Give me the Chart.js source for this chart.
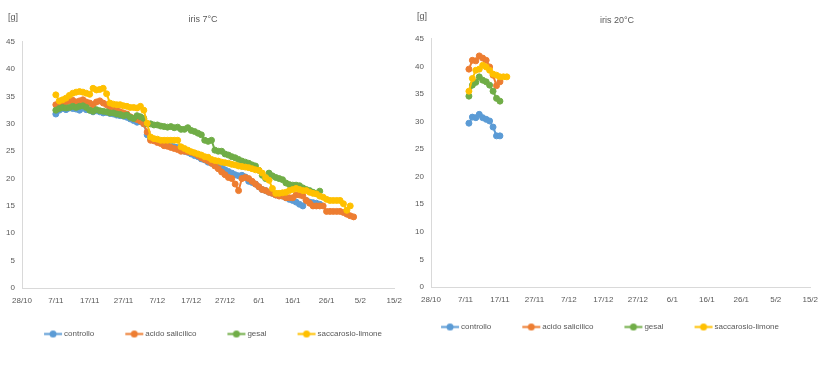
<!DOCTYPE html>
<html><head><meta charset="utf-8">
<script src="https://cdn.jsdelivr.net/npm/chart.js@4.4.1/dist/chart.umd.min.js"></script>
<style>
html,body{margin:0;padding:0;background:#fff;}
#wrap{position:relative;width:820px;height:365px;overflow:hidden;}
.box{position:absolute;top:0;height:365px;}
</style></head><body>
<div id="wrap">
<div class="box" style="left:0;width:410px"><canvas id="c1" width="410" height="365"></canvas></div>
<div class="box" style="left:410px;width:416px"><canvas id="c2" width="416" height="365"></canvas></div>
</div>
<script>
// ---- tick labels (x axis, day offsets from 28/10 in steps of 10) ----
const xTickLabels = ['28/10','7/11','17/11','27/11','7/12','17/12','27/12','6/1','16/1','26/1','5/2','15/2'];
const seriesNames = ['controllo','acido salicilico','gesal','saccarosio-limone'];

// ---- iris 7°C : measurement days (days after 28/10) ----
const days7 = [10,11,12,13,14,15,16,17,18,19,20,21,22,23,24,25,26,27,28,29,30,31,32,33,34,35,36,37,38,39,40,41,42,43,44,45,46,47,48,49,50,51,52,53,54,55,56,57,58,59,60,61,62,63,64,65,66,67,68,69,70,71,72,73,74,75,76,77,78,79,80,81,82,83,84,85,86,87,88,89,90,91,92,93,94,95,96,97,98];
const controllo7 = [31.8,32.5,32.8,32.6,32.9,32.8,32.7,32.5,32.9,32.6,32.5,32.2,32.4,32.2,32.0,32.1,31.9,31.8,31.6,31.5,31.4,31.2,30.9,30.6,30.3,30.4,30.0,28.0,27.3,27.0,26.8,26.6,26.5,26.2,26.0,25.8,25.7,25.4,25.0,24.8,24.5,24.2,24.0,23.6,23.4,23.0,22.8,22.5,22.3,22.0,21.6,21.3,21.0,20.7,20.5,20.6,20.3,19.5,19.3,19.0,18.5,18.0,17.8,17.5,17.3,17.0,17.0,16.8,16.5,16.2,16.0,15.7,15.3,15.0,16.0,15.7,15.6,15.5,15.3];
const acido7 = [33.5,33.0,33.6,34.0,34.2,34.3,34.0,34.2,34.4,34.0,33.8,33.5,34.0,34.2,33.8,33.5,33.0,32.8,32.5,32.2,32.0,31.8,31.3,31.0,30.8,30.5,30.0,28.5,27.0,26.9,26.6,26.4,26.0,25.9,25.7,25.5,25.3,25.0,25.0,24.9,24.8,24.6,24.2,23.8,23.5,23.2,22.8,22.3,21.8,21.2,20.7,20.2,20.0,19.0,17.8,20.0,20.2,20.0,19.5,19.0,18.5,18.0,17.8,17.5,17.3,17.0,16.8,16.8,16.5,16.5,16.5,17.0,17.0,16.8,16.0,15.5,15.0,15.0,15.0,15.0,14.0,14.0,14.0,14.0,14.0,13.8,13.5,13.2,13.0];
const gesal7 = [32.5,32.8,33.0,32.9,33.0,33.2,33.0,33.2,33.3,33.0,32.5,32.3,32.6,32.4,32.3,32.2,32.0,32.0,31.8,31.7,31.5,31.6,31.2,31.0,31.5,31.3,31.0,30.0,30.0,29.8,29.8,29.6,29.5,29.4,29.5,29.3,29.4,29.0,29.0,29.3,28.8,28.6,28.3,28.0,27.0,26.8,27.0,25.2,25.0,25.0,24.5,24.3,24.0,23.8,23.5,23.2,23.0,22.8,22.5,22.3,21.5,20.6,20.0,21.0,20.5,20.2,20.0,19.8,19.2,18.9,18.8,18.8,18.7,18.3,18.0,17.8,17.5,17.3,17.7];
const sacc7 = [35.3,34.2,34.4,34.7,35.2,35.6,35.8,35.9,35.8,35.6,35.4,36.5,36.2,36.3,36.5,35.5,33.8,33.6,33.5,33.5,33.3,33.2,33.0,33.0,32.9,33.2,32.5,30.1,27.6,27.3,27.2,27.0,27.0,27.0,27.0,27.0,27.0,25.8,25.5,25.2,24.9,24.7,24.5,24.3,24.0,23.9,23.5,23.3,23.2,23.0,22.9,22.8,22.6,22.5,22.3,22.2,22.1,22.0,21.8,21.6,21.5,21.0,20.2,19.7,18.2,17.3,17.3,17.4,17.5,17.8,18.0,18.2,18.0,17.8,17.8,17.5,17.3,17.2,16.8,16.6,16.2,16.0,16.0,16.0,16.0,15.4,14.2,15.0];

// ---- iris 20°C ----
const days20 = [11,12,13,14,15,16,17,18,19,20,21,22];
const controllo20 = [29.7,30.8,30.7,31.3,30.7,30.4,30.1,29.0,27.4,27.4];
const acido20 = [39.5,41.1,41.0,41.9,41.5,41.1,39.9,38.4,36.5,37.2];
const gesal20 = [34.6,36.6,37.1,38.1,37.5,37.2,36.6,35.5,34.2,33.7];
const sacc20 = [35.5,37.8,39.3,39.5,40.2,39.9,39.3,38.6,38.4,38.1,38.1,38.1];

const colors = ['#5B9BD5','#ED7D31','#70AD47','#FFC000'];
const FONT = '"Liberation Sans", Arial, sans-serif';
const TXT = '#595959';
const AXIS = '#d9d9d9';

function legendImg(color){
  const c = document.createElement('canvas'); c.width = 46; c.height = 9;
  const g = c.getContext('2d');
  g.strokeStyle = color; g.lineWidth = 2;
  g.beginPath(); g.moveTo(27, 4.5); g.lineTo(45, 4.5); g.stroke();
  g.fillStyle = color; g.beginPath(); g.arc(36, 4.5, 3.5, 0, Math.PI*2); g.fill();
  return c;
}
const legendImgs = colors.map(legendImg);

function mkDataset(i, days, vals){
  return {
    label: seriesNames[i],
    data: vals.map((v, k) => ({x: days[k], y: v})),
    borderColor: colors[i], backgroundColor: colors[i],
    pointBackgroundColor: colors[i], pointBorderColor: colors[i],
    borderWidth: 2, pointRadius: 3, pointBorderWidth: 1, pointHoverRadius: 3,
    tension: 0, order: 4 - i
  };
}

function makeChart(canvasId, title, sets, geo){
  const unitPlugin = {
    id: 'unitLabel',
    afterLayout(chart){
      chart.legend.left += geo.legendDx; chart.legend.right += geo.legendDx;
      chart.titleBlock.left += geo.titleDx; chart.titleBlock.right += geo.titleDx;
    },
    afterDraw(chart){
      const ctx = chart.ctx; ctx.save();
      ctx.font = '9px ' + FONT; ctx.fillStyle = TXT;
      ctx.textAlign = 'left'; ctx.textBaseline = 'middle';
      ctx.fillText('[g]', geo.unitX, geo.unitY);
      ctx.restore();
    }
  };
  return new Chart(document.getElementById(canvasId), {
    type: 'line',
    data: { datasets: sets },
    plugins: [unitPlugin],
    options: {
      responsive: false, animation: false, devicePixelRatio: 1,
      layout: { autoPadding: false, padding: { left: 0, right: geo.padRight, top: 0, bottom: geo.padBottom } },
      plugins: {
        tooltip: { enabled: false },
        title: { display: true, text: title, color: TXT, font: { family: FONT, size: 9, weight: 'normal' },
                 padding: { top: geo.titleTop, bottom: geo.titleBottom } },
        legend: {
          position: 'bottom',
          labels: {
            usePointStyle: true, pointStyleWidth: 40, padding: 7, color: TXT,
            font: { family: FONT, size: 8 },
            generateLabels: (chart) => chart.data.datasets.map((d, i) => ({
              text: d.label, pointStyle: legendImgs[i], fillStyle: colors[i], strokeStyle: colors[i],
              lineWidth: 0, hidden: false, datasetIndex: i, fontColor: TXT
            }))
          }
        }
      },
      scales: {
        x: {
          type: 'linear', min: 0, max: 110,
          grid: { display: false, drawTicks: false },
          border: { display: true, color: AXIS, width: 1 },
          ticks: { stepSize: 10, autoSkip: false, maxRotation: 0, padding: 8, color: TXT,
                   font: { family: FONT, size: 8 },
                   callback: (v) => xTickLabels[Math.round(v / 10)] },
          afterFit: (s) => { s.height = geo.xHeight; }
        },
        y: {
          min: 0, max: 45,
          grid: { display: false, drawTicks: false },
          border: { display: true, color: AXIS, width: 1 },
          ticks: { stepSize: 5, padding: 7, color: TXT, font: { family: FONT, size: 8 } },
          afterFit: (s) => { s.width = geo.yWidth; }
        }
      }
    }
  });
}

makeChart('c1', 'iris 7°C', [
  mkDataset(0, days7, controllo7), mkDataset(1, days7, acido7),
  mkDataset(2, days7, gesal7), mkDataset(3, days7, sacc7)
], { padRight: 14, padBottom: 17, titleTop: 14, titleBottom: 17, xHeight: 35, yWidth: 22,
     legendDx: 3, titleDx: 5, unitX: 8, unitY: 18 });

makeChart('c2', 'iris 20°C', [
  mkDataset(0, days20, controllo20), mkDataset(1, days20, acido20),
  mkDataset(2, days20, gesal20), mkDataset(3, days20, sacc20)
], { padRight: 10, padBottom: 24, titleTop: 15, titleBottom: 13, xHeight: 29, yWidth: 21,
     legendDx: -15, titleDx: 4, unitX: 7, unitY: 17 });
</script>
</body></html>
